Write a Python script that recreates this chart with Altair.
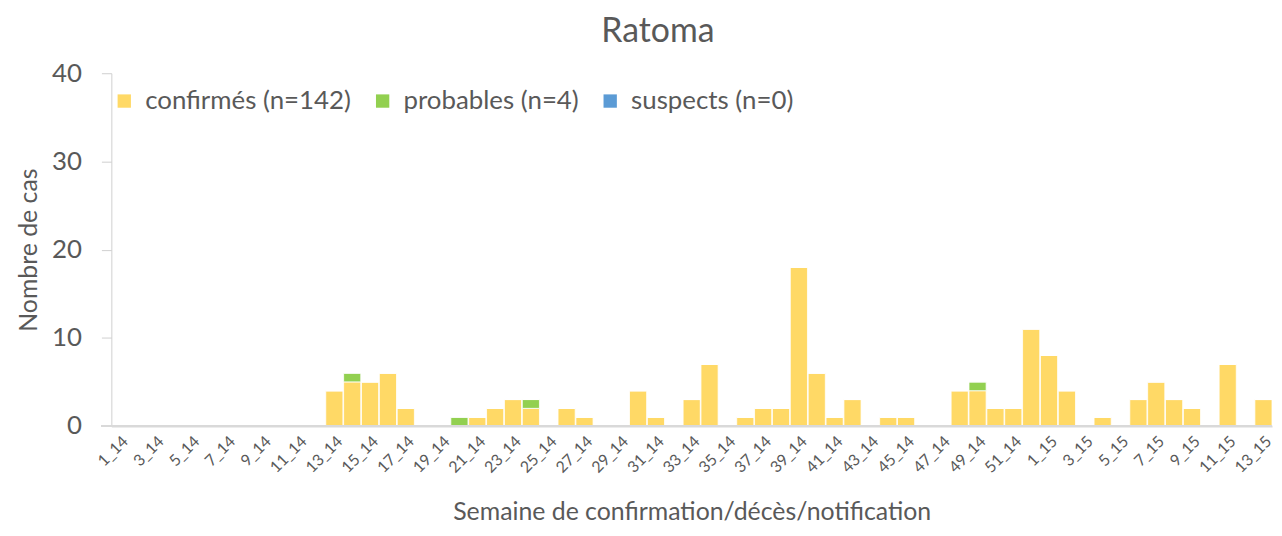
import altair as alt
import pandas as pd

weeks = [f"{i}_14" for i in range(1, 53)] + [f"{i}_15" for i in range(1, 14)]

confirmes = [0, 0, 0, 0, 0, 0, 0, 0, 0, 0, 0, 0,
             4, 5, 5, 6, 2, 0, 0, 0, 1, 2, 3, 2, 0, 2, 1, 0, 0, 4,
             1, 0, 3, 7, 0, 1, 2, 2, 18, 6, 1, 3, 0, 1, 1, 0, 0, 4,
             4, 2, 2, 11,
             8, 4, 0, 1, 0, 3, 5, 3, 2, 0, 7, 0, 3]
probables = [0] * 65
for w in ["14_14", "20_14", "24_14", "49_14"]:
    probables[weeks.index(w)] = 1
suspects = [0] * 65

series_names = ["confirmés (n=142)", "probables (n=4)", "suspects (n=0)"]
series_colors = ["#FFD966", "#92D050", "#5B9BD5"]
tick_labels = weeks[::2]

rows = []
for i, w in enumerate(weeks):
    for k, vals in enumerate([confirmes, probables, suspects]):
        rows.append({"semaine": w, "type": series_names[k], "ordre": k, "cas": vals[i]})
df = pd.DataFrame(rows)

FONT = "Lato"
GREY = "#595959"
W, H = 1168, 355

bars = alt.Chart(df).mark_bar(stroke="white", strokeWidth=0.8).encode(
    x=alt.X("semaine:N", sort=weeks,
            scale=alt.Scale(paddingInner=0.04, paddingOuter=0.0),
            axis=alt.Axis(title="Semaine de confirmation/décès/notification",
                          values=tick_labels, labelAngle=-45, labelFontSize=16,
                          labelColor=GREY, labelFont=FONT, ticks=False, labelPadding=7,
                          domainColor="#D9D9D9", domainWidth=2,
                          titleFontSize=25, titleFont=FONT, titleColor=GREY,
                          titleFontWeight="normal", titlePadding=24)),
    y=alt.Y("sum(cas):Q", stack="zero",
            scale=alt.Scale(domain=[0, 40]),
            axis=alt.Axis(title="Nombre de cas", values=[0, 10, 20, 30, 40], grid=False,
                          labelFontSize=26, labelColor=GREY, labelFont=FONT,
                          tickColor="#D0D0D0", tickSize=10, domainColor="#D0D0D0",
                          labelPadding=20,
                          titleFontSize=25, titleFont=FONT, titleColor=GREY,
                          titleFontWeight="normal", titlePadding=10)),
    color=alt.Color("type:N",
                    scale=alt.Scale(domain=series_names, range=series_colors),
                    legend=alt.Legend(title=None, orient="none", legendX=0, legendY=15,
                                      direction="horizontal", symbolType="square",
                                      symbolSize=180, symbolStrokeWidth=0,
                                      labelFontSize=26, labelFont=FONT, labelColor=GREY,
                                      labelLimit=0, labelOffset=8, columnPadding=18)),
    order=alt.Order("ordre:Q", sort="ascending"),
)

baseline = alt.Chart(df).mark_rule(color="#D9D9D9", strokeWidth=2).encode(
    x=alt.value(-10), x2=alt.value(W), y=alt.value(H)
)

chart = alt.layer(bars, baseline).properties(
    width=W,
    height=H,
    title=alt.Title("Ratoma", fontSize=34, font=FONT, color=GREY,
                    fontWeight="normal", offset=11, dx=-34),
    autosize=alt.AutoSizeParams(type="none"),
    padding={"left": 104, "top": 64, "right": 2, "bottom": 101},
).configure_view(stroke=None)

chart.save("out.html", embed_options={"renderer": "svg", "actions": False})
